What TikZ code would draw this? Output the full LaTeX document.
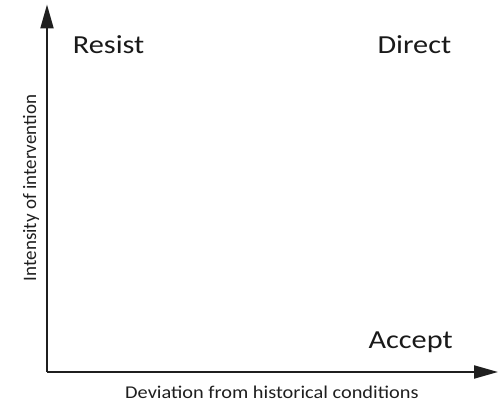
\documentclass[tikz,border=0pt]{standalone}
\usepackage{fontspec}
\setmainfont{Carlito}
\newfontfamily\quadfont[FakeStretch=1.165]{Carlito}
\newfontfamily\xlabelfont[FakeStretch=1.13]{Carlito}
\usetikzlibrary{arrows.meta}
\begin{document}
\begin{tikzpicture}[x=1pt,y=-1pt,
  axis/.style={line width=2pt,color=black!88,-{Triangle[length=24pt,width=13pt]}},
  quad/.style={font=\quadfont\fontsize{26}{30}\selectfont,text=black!90,inner sep=0pt,anchor=base west},
  axislabel/.style={text=black!88,inner sep=0pt}]
  \useasboundingbox (0,0) rectangle (501,411);
  % origin and axis ends
  \coordinate (o) at (47,372);
  \coordinate (ytop) at (47,4.5);
  \coordinate (xend) at (498,372);
  \draw[axis] (o) -- (ytop);
  \draw[axis] (o) -- (xend);
  % quadrant labels
  \node[quad] (resist) at (72.7,54) {Resist};
  \node[quad] (direct) at (377.3,54) {Direct};
  \node[quad] (accept) at (368.3,348.5) {Accept};
  % axis titles
  \node[axislabel,font=\xlabelfont\fontsize{18}{21}\selectfont,anchor=base west] (xlab) at (125,399) {Deviation from historical conditions};
  \node[axislabel,font=\fontsize{19}{22}\selectfont,rotate=90,anchor=base] (ylab) at (36,188) {Intensity of intervention};
\end{tikzpicture}
\end{document}
